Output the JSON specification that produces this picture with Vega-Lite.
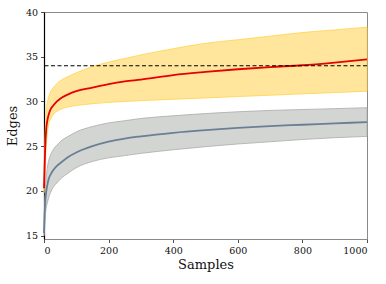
{
  "$schema": "https://vega.github.io/schema/vega-lite/v6.json",
  "autosize": "none",
  "width": 323,
  "height": 227,
  "padding": {"left": 44, "top": 12, "right": 19, "bottom": 45},
  "background": "white",
  "config": {
    "view": {"stroke": "#8a8a8a", "strokeWidth": 1},
    "font": "DejaVu Serif",
    "axis": {"grid": false, "labelFont": "DejaVu Serif", "titleFont": "DejaVu Serif", "labelFontSize": 9.5, "titleFontSize": 13, "titleFontWeight": "normal", "labelColor": "#111", "titleColor": "#111", "tickColor": "#222", "tickSize": 3.5, "tickWidth": 0.8}
  },
  "datasets": {
    "curves": [
      {"x": 0, "series": "red", "mean": 20.3, "lo": 19.8, "hi": 21.0},
      {"x": 3, "series": "red", "mean": 24.0, "lo": 22.0, "hi": 26.0},
      {"x": 6, "series": "red", "mean": 26.5, "lo": 24.5, "hi": 28.5},
      {"x": 10, "series": "red", "mean": 27.8, "lo": 26.3, "hi": 29.8},
      {"x": 15, "series": "red", "mean": 28.6, "lo": 27.5, "hi": 30.6},
      {"x": 20, "series": "red", "mean": 29.1, "lo": 28.0, "hi": 31.1},
      {"x": 30, "series": "red", "mean": 29.6, "lo": 28.6, "hi": 31.6},
      {"x": 40, "series": "red", "mean": 30.0, "lo": 28.9, "hi": 32.0},
      {"x": 50, "series": "red", "mean": 30.3, "lo": 29.1, "hi": 32.3},
      {"x": 75, "series": "red", "mean": 30.8, "lo": 29.4, "hi": 32.8},
      {"x": 100, "series": "red", "mean": 31.15, "lo": 29.55, "hi": 33.2},
      {"x": 150, "series": "red", "mean": 31.55, "lo": 29.75, "hi": 33.9},
      {"x": 200, "series": "red", "mean": 31.95, "lo": 29.9, "hi": 34.4},
      {"x": 250, "series": "red", "mean": 32.25, "lo": 30.0, "hi": 34.8},
      {"x": 300, "series": "red", "mean": 32.45, "lo": 30.1, "hi": 35.2},
      {"x": 400, "series": "red", "mean": 32.95, "lo": 30.25, "hi": 35.9},
      {"x": 500, "series": "red", "mean": 33.3, "lo": 30.4, "hi": 36.5},
      {"x": 600, "series": "red", "mean": 33.6, "lo": 30.55, "hi": 36.9},
      {"x": 700, "series": "red", "mean": 33.85, "lo": 30.7, "hi": 37.3},
      {"x": 800, "series": "red", "mean": 34.05, "lo": 30.85, "hi": 37.7},
      {"x": 900, "series": "red", "mean": 34.35, "lo": 31.0, "hi": 38.0},
      {"x": 1000, "series": "red", "mean": 34.7, "lo": 31.15, "hi": 38.3},
      {"x": 0, "series": "gray", "mean": 15.3, "lo": 15.0, "hi": 15.8},
      {"x": 2, "series": "gray", "mean": 17.5, "lo": 16.3, "hi": 18.5},
      {"x": 5, "series": "gray", "mean": 19.3, "lo": 17.6, "hi": 20.8},
      {"x": 10, "series": "gray", "mean": 20.6, "lo": 18.6, "hi": 22.5},
      {"x": 15, "series": "gray", "mean": 21.4, "lo": 19.3, "hi": 23.5},
      {"x": 20, "series": "gray", "mean": 21.8, "lo": 19.8, "hi": 24.0},
      {"x": 30, "series": "gray", "mean": 22.4, "lo": 20.5, "hi": 24.7},
      {"x": 40, "series": "gray", "mean": 22.8, "lo": 20.9, "hi": 25.1},
      {"x": 50, "series": "gray", "mean": 23.1, "lo": 21.3, "hi": 25.5},
      {"x": 75, "series": "gray", "mean": 23.8, "lo": 22.0, "hi": 26.1},
      {"x": 100, "series": "gray", "mean": 24.3, "lo": 22.6, "hi": 26.6},
      {"x": 150, "series": "gray", "mean": 25.0, "lo": 23.3, "hi": 27.2},
      {"x": 200, "series": "gray", "mean": 25.5, "lo": 23.7, "hi": 27.6},
      {"x": 250, "series": "gray", "mean": 25.85, "lo": 23.95, "hi": 27.85},
      {"x": 300, "series": "gray", "mean": 26.1, "lo": 24.2, "hi": 28.1},
      {"x": 400, "series": "gray", "mean": 26.5, "lo": 24.6, "hi": 28.4},
      {"x": 500, "series": "gray", "mean": 26.8, "lo": 24.95, "hi": 28.65},
      {"x": 600, "series": "gray", "mean": 27.05, "lo": 25.25, "hi": 28.85},
      {"x": 700, "series": "gray", "mean": 27.25, "lo": 25.5, "hi": 29.0},
      {"x": 800, "series": "gray", "mean": 27.4, "lo": 25.75, "hi": 29.1},
      {"x": 900, "series": "gray", "mean": 27.55, "lo": 25.95, "hi": 29.2},
      {"x": 1000, "series": "gray", "mean": 27.7, "lo": 26.1, "hi": 29.3}
    ]
  },
  "data": {"name": "curves"},
  "encoding": {
    "x": {"field": "x", "type": "quantitative", "scale": {"domain": [0, 1000], "nice": false, "zero": false},
      "axis": {"title": "Samples", "format": "d", "values": [0, 200, 400, 600, 800, 1000], "domainColor": "#8a8a8a", "domainWidth": 1.2, "labelPadding": 3, "titlePadding": 3}}
  },
  "layer": [
    {
      "mark": {"type": "area", "strokeWidth": 0.8, "interpolate": "monotone"},
      "encoding": {
        "y": {"field": "lo", "type": "quantitative", "scale": {"domain": [14.63, 40], "nice": false, "zero": false},
          "axis": {"title": "Edges", "values": [15, 20, 25, 30, 35, 40], "domainColor": "black", "domainWidth": 1.2, "labelPadding": 3, "titlePadding": 6}},
        "y2": {"field": "hi"},
        "fill": {"field": "series", "type": "nominal", "scale": {"domain": ["red", "gray"], "range": ["#ffe69c", "#d3d5d3"]}, "legend": null},
        "stroke": {"field": "series", "type": "nominal", "scale": {"domain": ["red", "gray"], "range": ["#ffd34a", "#a9aba9"]}, "legend": null},
        "detail": {"field": "series"}
      }
    },
    {
      "mark": {"type": "line", "strokeWidth": 1.8, "interpolate": "monotone"},
      "encoding": {
        "y": {"field": "mean", "type": "quantitative"},
        "color": {"field": "series", "type": "nominal", "scale": {"domain": ["red", "gray"], "range": ["#e60000", "#6a7f94"]}, "legend": null}
      }
    },
    {
      "data": {"values": [{}]},
      "mark": {"type": "rule", "color": "black", "strokeDash": [4, 2.5], "strokeWidth": 1.1},
      "encoding": {"x": null, "y": {"datum": 34}}
    },
    {
      "data": {"values": [{}]},
      "mark": {"type": "rule", "color": "#333333", "strokeWidth": 1.3},
      "encoding": {"x": {"datum": 1000}}
    }
  ]
}
